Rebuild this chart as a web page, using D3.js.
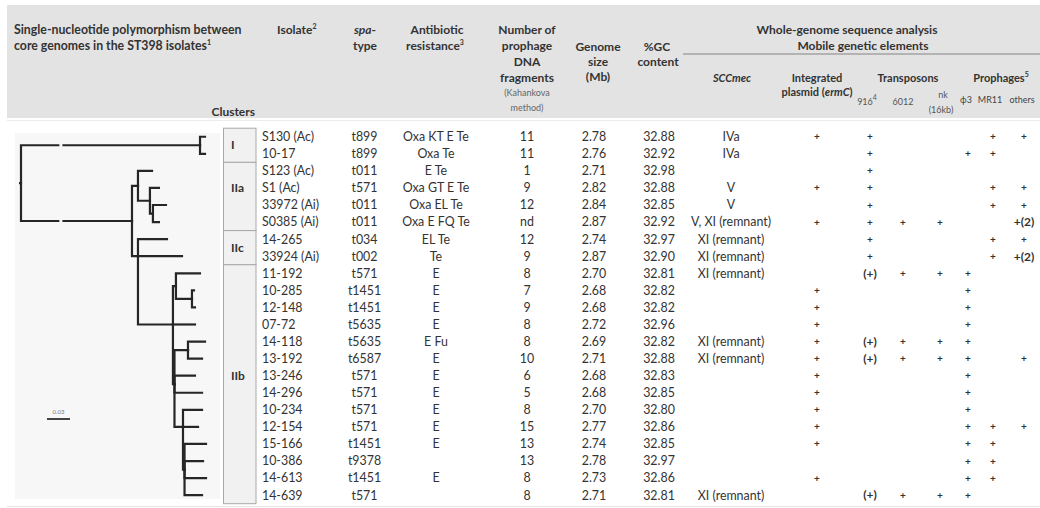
<!DOCTYPE html>
<html><head><meta charset="utf-8">
<script src="https://cdn.jsdelivr.net/npm/d3@7"></script>
<style>
html,body{margin:0;padding:0;background:#fff;}
svg{display:block;font-family:Lato,"Open Sans",sans-serif;}
</style></head><body>
<svg id="chart" width="1040" height="508"></svg>
<script>
// ---------- table data (one entry per isolate, top to bottom) ----------
const isolates = ["S130 (Ac)","10-17","S123 (Ac)","S1 (Ac)","33972 (Ai)","S0385 (Ai)","14-265","33924 (Ai)",
  "11-192","10-285","12-148","07-72","14-118","13-192","13-246","14-296","10-234","12-154","15-166","10-386","14-613","14-639"];
const clusterOf = ["I","I","IIa","IIa","IIa","IIa","IIc","IIc",
  "IIb","IIb","IIb","IIb","IIb","IIb","IIb","IIb","IIb","IIb","IIb","IIb","IIb","IIb"];
const spaTypes = ["t899","t899","t011","t571","t011","t011","t034","t002",
  "t571","t1451","t1451","t5635","t5635","t6587","t571","t571","t571","t571","t1451","t9378","t1451","t571"];
const resistance = ["Oxa KT E Te","Oxa Te","E Te","Oxa GT E Te","Oxa EL Te","Oxa E FQ Te","EL Te","Te",
  "E","E","E","E","E Fu","E","E","E","E","E","E","","E",""];
const prophageFragments = ["11","11","1","9","12","nd","12","9","8","7","9","8","8","10","6","5","8","15","13","13","8","8"];
const genomeSizeMb = ["2.78","2.76","2.71","2.82","2.84","2.87","2.74","2.87","2.70","2.68","2.68","2.72","2.69","2.71","2.68","2.68","2.70","2.77","2.74","2.78","2.73","2.71"];
const gcContent = ["32.88","32.92","32.98","32.88","32.85","32.92","32.97","32.90","32.81","32.82","32.82","32.96","32.82","32.88","32.83","32.85","32.80","32.86","32.85","32.97","32.86","32.81"];
const sccmec = ["IVa","IVa","","V","V","V, XI (remnant)","XI (remnant)","XI (remnant)","XI (remnant)","","","",
  "XI (remnant)","XI (remnant)","","","","","","","","XI (remnant)"];
const plasmidErmC = ["+","","","+","","+","","","","+","+","+","+","+","+","+","+","+","+","","+",""];
const tn916 = ["+","+","+","+","+","+","+","+","(+)","","","","(+)","(+)","","","","","","","","(+)"];
const tn6012 = ["","","","","","+","","","+","","","","+","+","","","","","","","","+"];
const tnNk16kb = ["","","","","","+","","","+","","","","+","+","","","","","","","","+"];
const phi3 = ["","+","","","","","","","+","+","+","+","+","+","+","+","+","+","+","+","+","+"];
const mr11 = ["+","+","","+","+","","+","+","","","","","","","","","","+","+","+","+",""];
const otherPhages = ["+","","","+","+","+(2)","+","+(2)","","","","","","+","","","","+","","","",""];

// ---------- SNP tree: [parent, child, branch length (substitutions/site)] ----------
const treeEdges = [
  ["root","I",0.2334], ["I","S130 (Ac)",0.0065], ["I","10-17",0.0065],
  ["root","II",0.1447],
  ["II","IIa",0.0078], ["IIa","S123 (Ac)",0.0183], ["IIa","n1",0.0156],
  ["n1","S1 (Ac)",0.0117], ["n1","n2",0.0039], ["n2","33972 (Ai)",0.0170], ["n2","S0385 (Ai)",0.0078],
  ["II","IIbc",0.0078], ["IIbc","14-265",0.0378], ["IIbc","33924 (Ai)",0.0574], ["IIbc","IIb",0.0456],
  ["IIb","A",0.0039], ["A","11-192",0.0313], ["A","B",0.0209], ["B","10-285",0.0026], ["B","12-148",0.0039],
  ["IIb","07-72",0.0287], ["IIb","G",0.0020],
  ["G","C",0.0176], ["C","14-118",0.0222], ["C","13-192",0.0183],
  ["G","13-246",0.0267], ["G","14-296",0.0359], ["G","D",0.0111],
  ["D","10-234",0.0248], ["D","12-154",0.0196], ["D","E",0.0020],
  ["E","15-166",0.0280], ["E","10-386",0.0241], ["E","14-613",0.0280], ["E","14-639",0.0228]
];
const scaleBarLength = 0.03;
const branchBreakAt = 0.052;

// ---------- layout ----------
const svg = d3.select("#chart");
const ink = "#333";
const headFill = "#e3e3e3";
const panelFill = "#f7f7f7";

const rowY = d3.scaleBand().domain(d3.range(isolates.length)).range([128.2, 503.7]);
const yc = i => rowY(i) + rowY.bandwidth() / 2;
const treeX = d3.scaleLinear().domain([0, 1]).range([21, 788]);

const col = {isolate:262, spa:364.5, abr:436, proph:527, size:594, gc:659, scc:731,
  plasmid:817, tn916:870, tn6012:903, tnNk:940, phi3:968, mr11:993, others:1024};

// header band
svg.append("rect").attr("x",7).attr("y",5).attr("width",1033).attr("height",113).attr("fill",headFill);
svg.append("line").attr("x1",7).attr("x2",1040).attr("y1",120.5).attr("y2",120.5).attr("stroke","#ececec");
svg.append("line").attr("x1",7).attr("x2",1040).attr("y1",506.5).attr("y2",506.5).attr("stroke","#e6e6e6");
svg.append("line").attr("x1",683).attr("x2",1040).attr("y1",54).attr("y2",54).attr("stroke","#a3a3a3").attr("stroke-width",1.5);

// header text helper: parts = [[text, style]] where style in {"", "i", "sup"}
function head(x, y, anchor, parts, opt = {}) {
  const t = svg.append("text").attr("x", x).attr("y", y + (opt.size || 12) * 0.36)
    .attr("text-anchor", anchor).attr("font-size", opt.size || 12)
    .attr("font-weight", opt.weight || "bold").attr("fill", opt.color || ink);
  parts.forEach(([s, st]) => {
    const sp = t.append("tspan").text(s);
    if (st === "i") sp.attr("font-style", "italic");
    if (st === "sup") sp.attr("font-size", 7).attr("dy", -5);
  });
  return t;
}
head(14, 30, "start", [["Single-nucleotide polymorphism between"]], {size:12.3});
head(14, 46, "start", [["core genomes in the ST398 isolates"], ["1","sup"]], {size:12.3});
head(255, 112, "end", [["Clusters"]]);
head(277, 30, "start", [["Isolate"], ["2","sup"]]);
head(365, 30, "middle", [["spa","i"], ["-"]]);
head(365, 46, "middle", [["type"]]);
head(437, 30, "middle", [["Antibiotic"]]);
head(435, 46, "middle", [["resistance"], ["3","sup"]]);
head(527, 30, "middle", [["Number of"]]);
head(527, 46, "middle", [["prophage"]]);
head(527, 62, "middle", [["DNA"]]);
head(527, 78, "middle", [["fragments"]]);
head(527, 93, "middle", [["(Kahankova"]], {size:9, weight:"normal", color:"#666"});
head(527, 108, "middle", [["method)"]], {size:9, weight:"normal", color:"#666"});
head(598, 47, "middle", [["Genome"]]);
head(598, 62, "middle", [["size"]]);
head(598, 77, "middle", [["(Mb)"]]);
head(657, 47, "middle", [["%GC"]]);
head(658, 62, "middle", [["content"]]);
head(847, 30, "middle", [["Whole-genome sequence analysis"]]);
head(863, 46, "middle", [["Mobile genetic elements"]]);
head(732, 78, "middle", [["SCCmec","i"]], {size:11});
head(817, 78, "middle", [["Integrated"]], {size:11});
head(817, 92, "middle", [["plasmid ("], ["ermC","i"], [")"]], {size:11});
head(908, 78, "middle", [["Transposons"]], {size:11});
head(867, 102, "middle", [["916"], ["4","sup"]], {size:9, weight:"normal", color:"#555"});
head(903, 102, "middle", [["6012"]], {size:9, weight:"normal", color:"#555"});
head(943, 95, "middle", [["nk"]], {size:9, weight:"normal", color:"#555"});
head(941, 110, "middle", [["(16kb)"]], {size:9, weight:"normal", color:"#555"});
head(1001, 78, "middle", [["Prophages"], ["5","sup"]], {size:11});
head(966, 100, "middle", [["ϕ3"]], {size:9, weight:"normal", color:"#444"});
head(990, 100, "middle", [["MR11"]], {size:9, weight:"normal", color:"#444"});
head(1022, 100, "middle", [["others"]], {size:9, weight:"normal", color:"#444"});

// ---------- tree panel ----------
svg.append("rect").attr("x",15).attr("y",133).attr("width",205).attr("height",366).attr("fill",panelFill);

const leafRow = new Map(isolates.map((d, i) => [d, i]));
function build(name, depth) {
  const kids = treeEdges.filter(e => e[0] === name).map(e => build(e[1], depth + e[2]));
  const node = {name, depth, children: kids};
  if (!kids.length) node.y = yc(leafRow.get(name));
  else {
    const ys = kids.map(k => k.y), n = ys.length;
    node.y = n % 2 ? ys[(n - 1) / 2] : (ys[n / 2 - 1] + ys[n / 2]) / 2;
  }
  return node;
}
const root = build("root", 0);
// one elbow per edge: down/up along the parent's column, then out to the child
const elbows = [];
(function walk(nd) {
  nd.children.forEach(c => {
    elbows.push({px: treeX(nd.depth), py: nd.y, cx: treeX(c.depth), cy: c.y});
    walk(c);
  });
})(root);

const treeG = svg.append("g").attr("fill", "none").attr("stroke", "#262626").attr("stroke-width", 2.2);
treeG.selectAll("path.br").data(elbows).join("path").attr("class", "br")
  .attr("d", d => `M${d.px},${d.py}V${d.cy}H${d.cx}`)
  .attr("stroke-linejoin", "miter").attr("stroke-linecap", "square");
treeG.append("path").attr("d", `M${treeX(0) - 2},${root.y}H${treeX(0)}`);
// truncated deep branches
svg.selectAll("rect.brk").data(root.children).join("rect").attr("class","brk")
  .attr("x", treeX(branchBreakAt) - 1.5).attr("width", 3)
  .attr("y", d => d.y - 3).attr("height", 6).attr("fill", panelFill);

// scale bar
const sbX = 47, sbY = 419;
svg.append("line").attr("x1", sbX).attr("x2", sbX + treeX(scaleBarLength) - treeX(0))
  .attr("y1", sbY).attr("y2", sbY).attr("stroke", "#444").attr("stroke-width", 2);
svg.append("text").attr("x", sbX + (treeX(scaleBarLength) - treeX(0)) / 2).attr("y", sbY - 5)
  .attr("text-anchor", "middle").attr("font-size", 6).attr("fill", "#777").text(scaleBarLength.toFixed(2));

// ---------- cluster boxes ----------
const groups = [];
clusterOf.forEach((c, i) => {
  const g = groups[groups.length - 1];
  if (g && g.name === c) g.last = i; else groups.push({name: c, first: i, last: i});
});
svg.selectAll("rect.cl").data(groups).join("rect").attr("class","cl")
  .attr("x", 223.5).attr("width", 32.5)
  .attr("y", d => rowY(d.first)).attr("height", d => rowY(d.last) + rowY.bandwidth() - rowY(d.first))
  .attr("fill", "#f1f1f1").attr("stroke", "#a8a8a8").attr("stroke-width", 1);
svg.selectAll("text.cl").data(groups).join("text").attr("class","cl")
  .attr("x", 231)
  .attr("y", d => (d.last - d.first > 1 ? yc(Math.floor((d.first + d.last) / 2)) : (yc(d.first) + yc(d.last)) / 2) + 4)
  .attr("font-size", 12).attr("font-weight", "bold").attr("fill", ink).text(d => d.name);

// ---------- table body ----------
const textCols = [
  {v: isolates, x: col.isolate, a: "start"},
  {v: spaTypes, x: col.spa, a: "middle"},
  {v: resistance, x: col.abr, a: "middle"},
  {v: prophageFragments, x: col.proph, a: "middle"},
  {v: genomeSizeMb, x: col.size, a: "middle"},
  {v: gcContent, x: col.gc, a: "middle"},
  {v: sccmec, x: col.scc, a: "middle"}
];
textCols.forEach(c => {
  svg.append("g").selectAll("text").data(c.v).join("text")
    .attr("x", c.x).attr("y", (d, i) => yc(i) + 4.4).attr("text-anchor", c.a)
    .attr("font-size", 12.4).attr("fill", ink).text(d => d);
});
const markCols = [
  {v: plasmidErmC, x: col.plasmid}, {v: tn916, x: col.tn916}, {v: tn6012, x: col.tn6012},
  {v: tnNk16kb, x: col.tnNk}, {v: phi3, x: col.phi3}, {v: mr11, x: col.mr11}, {v: otherPhages, x: col.others}
];
markCols.forEach(c => {
  svg.append("g").selectAll("text").data(c.v).join("text")
    .attr("x", c.x).attr("y", (d, i) => yc(i) + (d === "+" ? 3.5 : 4.3)).attr("text-anchor", "middle")
    .attr("font-size", d => d === "+" ? 10 : 12).attr("font-weight", "bold").attr("fill", ink).text(d => d);
});
</script>
</body></html>
